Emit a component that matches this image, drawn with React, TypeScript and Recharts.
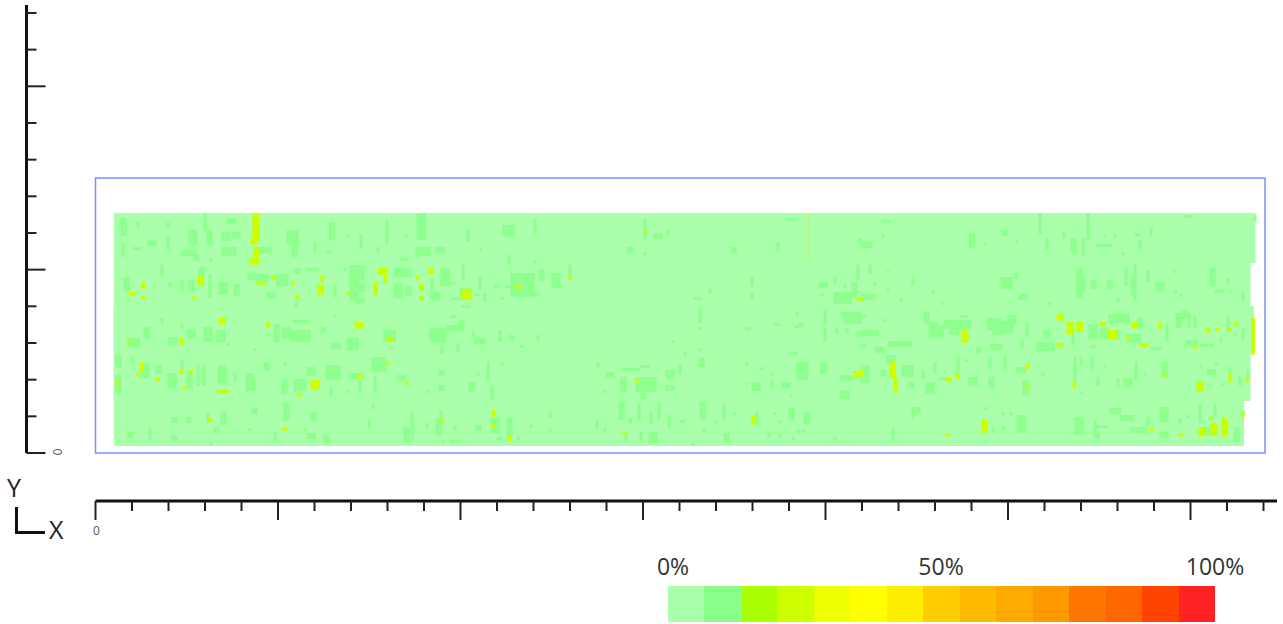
import React from "react";
import { ComposedChart, Scatter, XAxis, YAxis, ReferenceArea } from "recharts";

// Axis values
const xTicks = Array.from({ length: 33 }, (_, i) => i * 36.5);
const yTicks = Array.from({ length: 13 }, (_, i) => i * 36.67);
const majorEvery = 5;

// Base bands of the 0% level: [xStart, xEnd, yBottom, yTop]
const baseBands = [
  [18.5, 1160, 190, 240],
  [18.5, 1155, 147, 190],
  [18, 1158.5, 99, 147],
  [18, 1155, 52, 99],
  [18.5, 1148.5, 7, 52],
];
const frame = [0, 1169.5, 0, 275];

// Runs of cells: [x, yTop, columns, rows]
const paleStripA = [
  [25,235,2,6],[41,231,1,2],[71,231,1,2],[71,218,1,5],[93,223,3,5],[86,203,5,2],[98,198,2,2],[108,240,1,6],[111,223,2,5],
  [131,235,3,2],[126,221,3,3],[136,221,3,2],[126,206,5,3],[164,206,4,2],[191,223,4,5],[196,208,2,4],[233,231,2,6],[218,211,1,3],
  [251,219,1,1],[264,219,1,5],[290,233,1,8],[309,219,1,1],[321,240,3,9],[320,206,5,3],[281,206,1,2],[230,203,2,1],[26,211,1,5],
  [37,206,3,1],[52,213,3,2],[114,195,1,1],[304,195,3,1],
  [340,206,3,2],[384,205,1,1],[371,223,1,4],[407,228,4,4],[438,235,1,5],[412,198,1,3],[438,193,1,1],[548,235,1,7],[558,220,3,2],
  [571,223,1,2],[532,206,2,2],[548,201,1,1],[635,206,2,2],[681,211,1,3],[691,235,3,1],[763,215,1,2],
  [786,233,3,1],[786,218,1,1],[765,211,4,2],[873,220,2,5],[888,210,1,1],[906,223,2,2],[920,213,1,1],[943,240,1,7],[950,215,1,4],
  [967,221,1,2],[975,215,2,5],[986,215,1,6],[991,240,1,9],[1001,209,5,1],[1008,218,1,1],[1018,218,1,1],[1026,201,1,1],[1039,220,2,1],
  [1043,213,1,3],[1054,226,1,3],[1088,238,3,1],[1158,238,1,2],
];
const paleStripB = [
  [65,188,1,4],[103,186,2,3],[28,176,2,5],[73,171,1,2],[85,173,1,4],[93,173,2,4],[113,179,1,8],[123,171,3,4],[138,169,2,4],[152,179,4,2],
  [161,179,4,3],[178,179,4,2],[181,179,4,4],[171,161,3,2],[199,185,2,2],[199,151,1,2],[211,185,4,1],[248,185,1,1],[254,188,5,5],[254,173,3,7],[263,170,2,3],[260,155,3,2],[298,185,6,3],
  [298,170,3,5],[310,167,2,3],[238,168,1,4],
  [335,175,1,4],[345,185,3,6],[354,171,2,1],[366,188,1,5],[383,176,1,4],[398,168,2,1],[410,168,2,1],[415,180,8,8],[443,184,2,4],[456,180,3,5],
  [473,188,1,5],[335,161,3,3],[355,156,3,1],[364,165,4,4],[378,160,2,1],[388,160,1,3],[405,156,1,1],[438,160,2,1],[366,148,3,1],
  [655,176,1,3],[655,160,1,2],[598,156,3,1],[613,165,1,2],[723,171,3,2],[738,176,1,2],[748,168,1,1],[725,160,1,1],[738,161,6,4],[756,171,2,5],[761,188,1,5],
  [773,188,1,3],[791,183,1,1],[778,171,1,1],[765,159,5,2],[804,155,1,1],[791,164,1,1],[816,176,1,3],[836,163,1,1],[846,151,1,1],[905,176,4,4],
  [919,180,1,2],[923,159,3,2],[953,151,1,1],[981,185,2,10],[987,176,1,5],[995,173,2,3],[1011,173,2,3],[1021,156,1,2],[1029,185,1,6],[1038,188,1,12],[1035,176,1,6],[1051,183,1,4],
  [1060,171,3,3],[1078,183,1,1],[1078,163,1,1],[1084,159,1,1],[1114,185,2,6],[1119,163,3,1],[1131,175,1,2],[1134,163,1,1],[1146,161,1,3],
];
const paleStripC = [
  [48,126,2,4],[33,115,4,3],[65,135,1,2],[73,116,3,3],[85,130,1,2],[91,124,3,3],[108,126,3,5],[121,123,3,4],[131,110,1,1],[158,105,1,1],
  [178,129,2,6],[186,126,3,4],[194,123,7,4],[198,133,5,1],[225,126,2,2],[236,110,3,2],[251,115,4,4],[288,123,4,4],[333,123,1,3],[238,138,1,1],
  [355,138,2,1],[363,133,2,2],[603,145,1,5],[700,141,1,1],[728,143,1,5],[745,141,1,1],[748,141,6,4],[678,130,2,1],[703,130,2,1],
  [335,125,5,5],[350,128,6,2],[345,108,1,3],[361,110,1,3],[376,122,1,2],[378,115,4,2],[403,123,1,4],[413,118,2,2],[425,108,1,1],[441,118,1,2],
  [576,113,1,1],[603,126,1,1],[650,126,2,1],[698,128,3,1],[728,126,1,5],[740,125,1,2],[750,125,1,2],[761,122,2,2],[603,105,1,1],[588,101,1,1],
  [693,101,3,1],
  [765,139,2,1],[765,123,6,2],[788,134,1,1],[765,109,2,1],[780,106,3,2],[792,112,8,2],[828,141,2,4],[833,131,3,5],[842,128,2,4],[854,124,3,2],[848,133,9,3],[864,138,3,1],
  [880,106,2,2],[891,135,5,4],[906,132,4,4],[897,124,4,2],[912,138,3,3],[895,109,4,2],[925,113,1,3],[930,131,1,5],[941,111,6,3],[948,123,2,3],[993,129,3,5],[1004,126,3,4],[1016,123,3,3],
  [994,108,2,1],[1013,139,7,3],[1031,119,5,3],[1041,136,2,4],[1055,106,4,1],[1070,129,1,6],[1080,140,2,5],[1086,143,2,3],[1092,140,1,5],[1098,137,1,4],[1090,113,4,2],[1104,109,5,1],[1124,116,1,2],
  [1131,138,1,6],[1146,125,1,4],[1138,120,1,1],[976,123,1,5],
];
const paleStripD = [
  [20,98,2,4],[20,78,2,6],[35,96,1,2],[45,90,3,5],[60,88,2,3],[72,80,3,5],[85,93,1,4],[91,83,2,6],[101,88,1,7],[107,88,1,7],[122,88,3,6],[138,80,1,3],
  [150,80,3,6],[168,91,2,3],[188,91,1,1],[186,74,2,5],[198,74,4,4],[211,86,3,3],[230,88,5,5],[234,66,1,3],[250,63,1,1],[253,80,5,2],[263,72,1,4],
  [276,96,5,5],[278,76,1,5],[301,78,3,2],[330,63,1,1],
  [603,95,2,3],[343,83,2,2],[343,68,2,2],[373,71,2,3],[381,80,1,1],[391,91,1,6],[405,91,1,1],[395,68,1,5],[501,91,1,2],[510,81,3,2],[525,76,2,5],
  [527,85,6,1],[545,88,3,1],[540,76,7,5],[545,60,2,2],[570,83,3,3],[570,68,3,2],[583,88,1,3],[508,63,1,1],[650,91,1,1],[665,86,1,1],[675,80,1,1],
  [650,71,1,1],[656,71,3,3],[675,73,1,3],[686,71,3,2],[694,58,1,1],[701,91,4,6],[725,91,2,4],[745,78,4,2],[745,63,3,3],
  [791,98,3,3],[785,83,2,2],[765,88,3,6],[806,88,4,4],[813,71,2,2],[826,83,1,3],[830,71,3,4],[838,91,1,4],[843,76,3,1],[861,96,1,7],[869,94,1,1],
  [873,76,3,3],[893,76,2,4],[893,96,1,4],[908,96,1,4],[921,86,3,2],[927,73,2,5],[946,80,1,1],[978,96,1,9],[984,96,1,3],[984,62,1,1],[995,96,1,4],
  [1001,76,1,3],[1008,88,1,1],[1021,75,1,3],[1028,75,3,3],[1039,91,1,6],[1048,80,1,1],[1066,91,2,5],[1104,88,1,1],[1111,84,3,2],[1119,90,1,1],
  [1111,70,1,1],[1126,70,1,1],[1133,86,1,5],[1143,76,1,3],[1151,83,1,4],
];
const paleStripE = [
  [76,36,2,2],[90,36,2,2],[111,40,1,3],[125,41,2,4],[118,26,2,2],[156,45,2,2],[153,25,1,1],[188,50,2,6],[215,41,2,3],[208,25,1,1],[276,50,1,2],
  [272,33,1,3],[315,41,1,9],[308,26,2,5],[330,30,1,2],[32,21,2,2],[53,26,1,4],[76,18,2,2],[114,11,1,1],[178,21,1,3],[211,20,3,2],[228,18,2,3],
  [344,43,1,3],[340,35,2,6],[358,28,1,2],[355,13,3,1],[380,28,2,2],[395,35,3,5],[411,35,2,6],[434,28,1,1],[453,41,1,2],[453,24,1,1],[500,33,1,3],
  [508,25,1,1],[523,51,2,6],[533,35,1,2],[542,50,1,6],[554,41,1,4],[562,51,1,6],[572,38,1,4],[584,33,2,1],[604,51,2,6],[619,33,1,1],[627,50,1,6],
  [638,41,1,1],[660,41,1,4],[678,41,1,1],[683,33,1,1],[693,45,2,4],[708,41,2,4],[701,23,1,1],[529,21,1,3],[544,21,1,3],[553,21,3,4],[596,10,1,1],
  [607,24,1,1],[628,20,2,3],[672,21,1,2],[683,19,1,1],[696,16,1,1],[706,24,1,1],[738,16,1,1],[401,16,2,1],[421,16,1,1],[346,13,1,1],
  [816,46,3,2],[816,40,1,2],[796,26,1,4],[889,46,1,1],[889,13,1,1],[896,26,1,2],[906,41,1,1],[906,28,1,2],[914,41,1,1],[921,38,3,6],[979,36,3,6],
  [998,33,1,6],[1001,28,4,1],[1001,20,1,2],[1014,45,4,2],[1024,38,5,2],[1034,26,6,2],[1051,36,1,3],[1064,46,3,5],[1064,21,3,2],[1083,35,1,2],
  [1091,38,1,1],[1103,49,1,6],[1118,49,1,4],[1113,36,1,1],[1126,38,1,6],[1138,26,2,5],[1146,43,1,1],[1106,26,3,3],
];
const warmRuns = [
  [157,240,2,9],[155,215,2,2],[158,206,2,3],[154,195,3,2],[102,177,2,3],[46,171,1,2],[33,161,2,1],[46,157,1,1],[97,157,1,1],[161,172,3,1],[176,177,1,1],
  [196,172,1,1],[200,157,1,1],[225,177,1,2],[222,168,2,3],[251,161,1,1],[278,171,1,4],[282,185,3,2],[288,177,1,2],[320,177,1,1],[324,169,1,2],[324,157,1,1],[333,185,1,2],
  [123,135,2,2],[171,131,1,2],[259,131,3,2],[31,114,1,1],[84,115,1,2],[291,115,2,1],[44,91,1,3],[40,80,1,1],[84,83,1,1],[94,83,1,1],[60,75,1,1],[87,67,1,1],[20,72,1,1],
  [121,64,4,1],[215,73,3,3],[202,60,1,1],[263,80,1,2],[291,92,1,1],[309,72,1,1],[112,35,1,1],[186,26,2,1],
  [335,185,1,2],[366,163,3,3],[419,168,2,1],[473,177,1,1],[549,224,1,1],[761,156,2,1],[539,73,1,1],[758,82,2,2],[765,83,1,2],[344,34,1,1],[396,43,1,2],[396,29,1,1],[412,18,1,2],[527,22,1,1],[656,38,1,3],
  [961,139,2,2],[971,131,2,4],[981,131,2,3],[1004,131,2,1],[1012,123,3,3],[1036,131,2,2],[1031,117,1,1],[1044,110,3,1],[1063,131,1,2],[961,110,2,1],[1098,108,1,1],[1111,126,1,2],
  [1120,125,1,1],[1133,125,1,1],[1138,131,1,1],[1156,135,1,12],[866,123,2,4],[871,118,1,1],[794,91,2,5],[798,76,1,5],[850,75,2,1],[860,80,1,2],[930,90,1,2],[930,68,1,1],[977,71,1,2],
  [1067,80,1,1],[1101,71,2,3],[1133,80,1,3],[1150,75,1,1],[886,33,2,4],[850,20,1,1],[1054,25,1,1],[1084,20,1,1],[1103,26,2,3],[1115,30,2,4],[1126,35,2,6],[1115,36,1,1],[1146,40,1,1],
];
const thinRuns = [[713,240,1,16]];

// Legend
const legendColors = ["#AAFFAA","#88FF88","#AAFF00","#CCFF00","#EEFF00","#FFFF00","#FFEE00","#FFCC00","#FFBB00","#FFAA00","#FF9900","#FF7700","#FF6600","#FF4400","#FF2222"];
const legendLabels = [["0%", 673], ["50%", 941], ["100%", 1215]];

const CELL = 3;
const expand = (runs: number[][]) =>
  runs.flatMap(([x, y, cols, rows]) =>
    Array.from({ length: cols * rows }, (_, k) => ({
      x: x + (k % cols) * CELL,
      y: y - Math.floor(k / cols) * CELL,
    }))
  );
const paleCells = expand([...paleStripA, ...paleStripB, ...paleStripC, ...paleStripD, ...paleStripE]);
const warmCells = expand(warmRuns);
const thinCells = expand(thinRuns);

const cellShape = (fill: string, w: number, h: number) => (p: any) =>
  <rect x={p.cx} y={p.cy} width={w} height={h} fill={fill} stroke="none" />;

const XTick = (p: any) => {
  const major = Math.round(p.payload.value / 36.5) % majorEvery === 0;
  return (
    <g>
      <line x1={p.x} x2={p.x} y1={p.y} y2={p.y + (major ? 19 : 10)} stroke="#222" strokeWidth={2} />
      {p.payload.value === 0 && (
        <text x={p.x + 1} y={p.y + 34} textAnchor="middle" fontSize={12} fontFamily="Open Sans" fill="#555">0</text>
      )}
    </g>
  );
};
const YTick = (p: any) => {
  const major = Math.round(p.payload.value / 36.67) % majorEvery === 0;
  return (
    <g>
      <line x1={p.x} x2={p.x + (major ? 19 : 10)} y1={p.y} y2={p.y} stroke="#222" strokeWidth={2} />
      {p.payload.value === 0 && (
        <text transform={`translate(${p.x + 30},${p.y - 1}) rotate(90)`} textAnchor="middle" dominantBaseline="middle" fontSize={12} fontFamily="Open Sans" fill="#555">0</text>
      )}
    </g>
  );
};

const xDomain = [0, 1181.5];
const yDomain = [0, 448];
const ids = { xAxisId: "main", yAxisId: "main" };

export default function App() {
  return (
    <div style={{ position: "absolute", left: 0, top: 0, width: 1283, height: 624, background: "#fff", overflow: "hidden" }}>
      <ComposedChart width={1283} height={624} margin={{ top: 5, right: 6, bottom: 83, left: 25.5 }} data={[]}>
        <XAxis xAxisId="gap" type="number" domain={xDomain} allowDataOverflow height={48} tick={false} axisLine={false} tickLine={false} />
        <XAxis xAxisId="main" dataKey="x" type="number" domain={xDomain} allowDataOverflow ticks={xTicks} interval={0} height={40} tickSize={0} tickMargin={0}
          tick={XTick} tickLine={false} axisLine={{ stroke: "#111", strokeWidth: 3 }} />
        <YAxis yAxisId="gap" type="number" domain={yDomain} allowDataOverflow width={69} tick={false} axisLine={false} tickLine={false} />
        <YAxis yAxisId="main" dataKey="y" type="number" domain={yDomain} allowDataOverflow ticks={yTicks} interval={0} width={1} tickSize={0} tickMargin={0}
          tick={YTick} tickLine={false} axisLine={{ stroke: "#111", strokeWidth: 3 }} />
        {baseBands.map(([x1, x2, y1, y2], i) => (
          <ReferenceArea key={i} {...ids} x1={x1} x2={x2} y1={y1} y2={y2} fill={legendColors[0]} fillOpacity={1} stroke="none" />
        ))}
        <ReferenceArea {...ids} x1={frame[0]} x2={frame[1]} y1={frame[2]} y2={frame[3]} fill="none" stroke="#7F8FFF" strokeWidth={1.5} />
        <Scatter {...ids} data={paleCells} shape={cellShape("#8CFF8C", 3.1, 3.1)} isAnimationActive={false} />
        <Scatter {...ids} data={warmCells} shape={cellShape(legendColors[3], 3.6, 3.6)} isAnimationActive={false} />
        <Scatter {...ids} data={thinCells} shape={cellShape("#D8EE55", 1.5, 3.1)} isAnimationActive={false} />
      </ComposedChart>

      <div style={{ position: "absolute", left: 667.5, top: 586, display: "flex" }}>
        {legendColors.map((c) => (
          <div key={c} style={{ width: 36.53, height: 36, background: c }} />
        ))}
      </div>
      {legendLabels.map(([t, x]) => (
        <div key={t as string} style={{ position: "absolute", left: (x as number) - 50, width: 100, top: 550, textAlign: "center", fontFamily: "Open Sans", fontSize: 23, color: "#333" }}>{t}</div>
      ))}
      <div style={{ position: "absolute", left: 7, top: 470, fontFamily: "Open Sans", fontSize: 25, color: "#222" }}>Y</div>
      <div style={{ position: "absolute", left: 49, top: 512, fontFamily: "Open Sans", fontSize: 25, color: "#222" }}>X</div>
      <div style={{ position: "absolute", left: 15, top: 507, width: 27, height: 24, borderLeft: "3px solid #111", borderBottom: "3px solid #111" }} />
    </div>
  );
}
